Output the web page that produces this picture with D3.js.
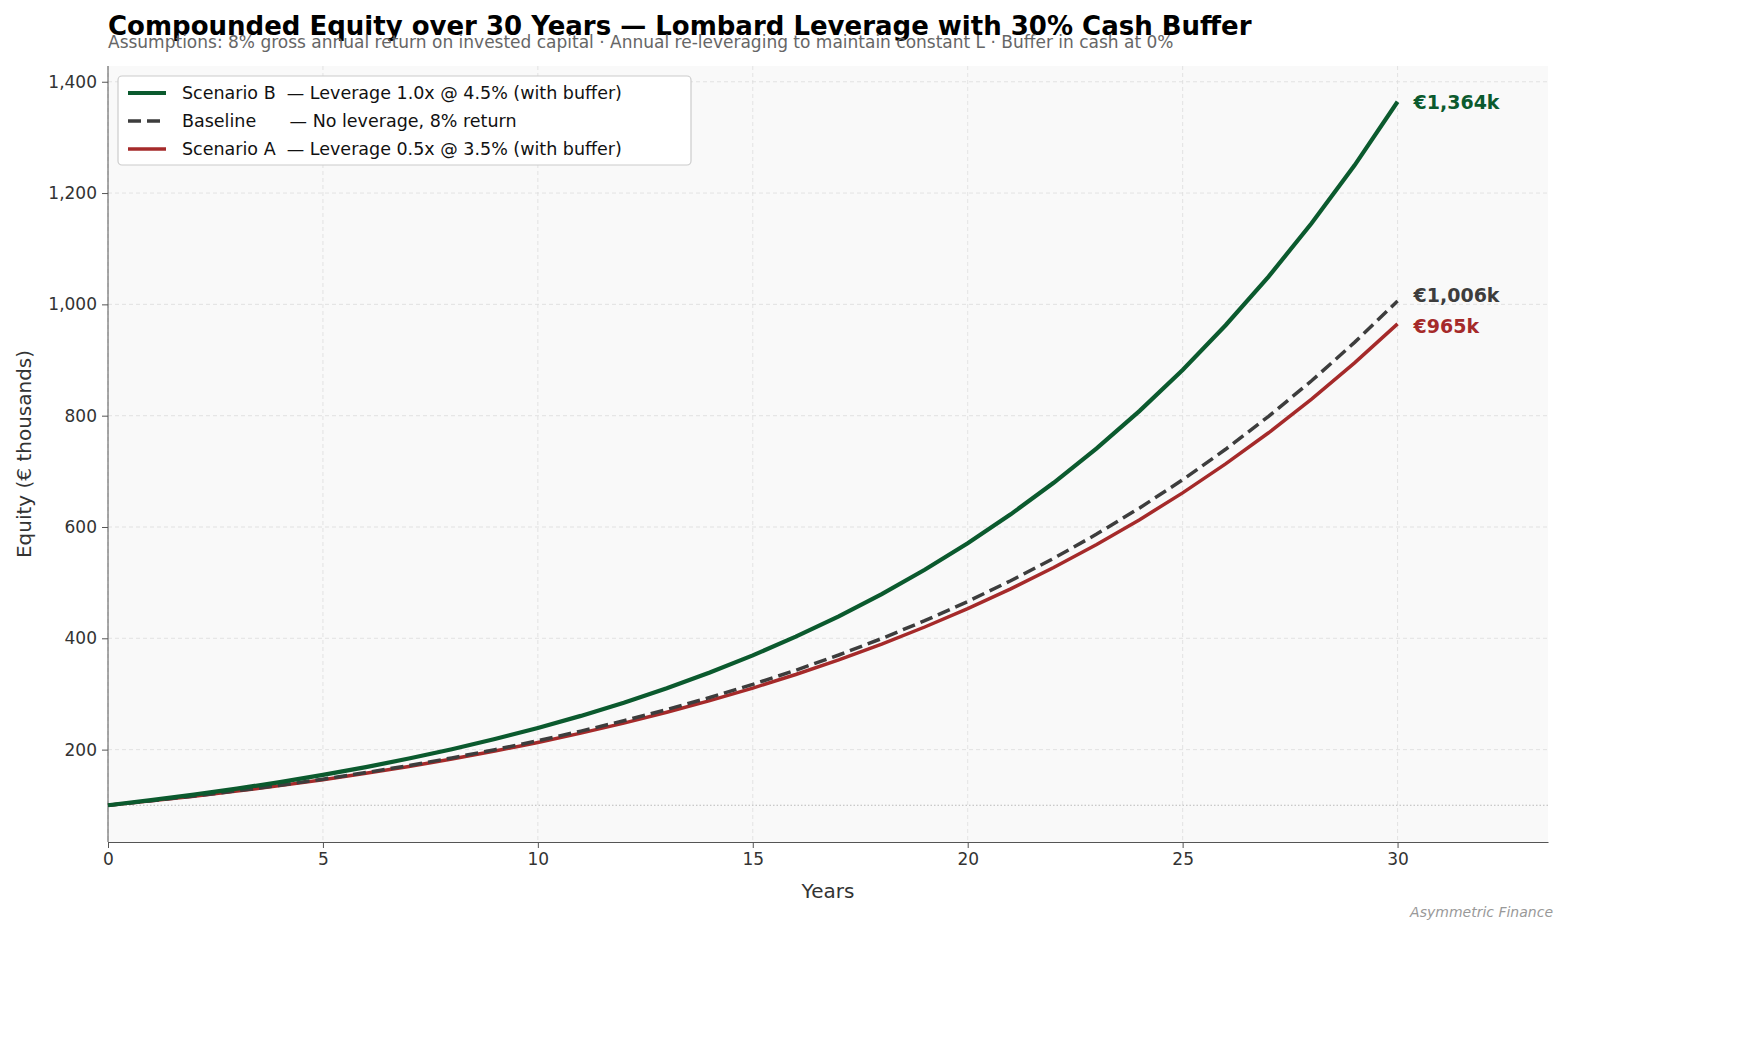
<!DOCTYPE html>
<html><head><meta charset="utf-8">
<script src="https://cdn.jsdelivr.net/npm/d3@7"></script>
<style>body{margin:0;background:#fff;font-family:"DejaVu Sans",sans-serif;overflow:hidden}</style>
</head><body><div id="viz"></div>
<script>
var years = d3.range(0, 31);
var baseline = [100,108,116.6,126,136,146.9,158.7,171.4,185.1,199.9,215.9,233.2,251.8,272,293.7,317.2,342.6,370,399.6,431.6,466.1,503.4,543.7,587.2,634.2,684.8,739.6,798.8,862.7,931.7,1006];
var scenB = [100,109.1,119,129.9,141.7,154.6,168.6,184,200.7,219,238.9,260.6,284.4,310.2,338.5,369.3,402.9,439.5,479.5,523.2,570.8,622.7,679.4,741.2,808.6,882.2,962.5,1050,1145.6,1249.8,1364];
var scenA = [100,107.9,116.3,125.4,135.3,145.9,157.4,169.7,183,197.4,212.9,229.6,247.6,267.1,288,310.6,335,361.3,389.7,420.3,453.3,488.8,527.2,568.6,613.2,661.3,713.3,769.3,829.6,894.8,965];
var xTicks = [0,5,10,15,20,25,30];
var yTicks = [200,400,600,800,1000,1200,1400];

var W = 1750, H = 1041;
var mLeft = 108, mRight = 1548, mTop = 66, mBottom = 842;
var svg = d3.select('#viz').append('svg').attr('width', W).attr('height', H);

var x = d3.scaleLinear().domain([0, 33.5]).range([mLeft, mRight]);
var y = d3.scaleLinear().domain([34, 1475]).range([mBottom, 40]);

svg.append('rect').attr('x', mLeft).attr('y', mTop).attr('width', mRight-mLeft).attr('height', mBottom-mTop).attr('fill', '#f9f9f9');

// grid
svg.selectAll('.gx').data(xTicks).enter().append('line')
.attr('x1', d=>x(d)).attr('x2', d=>x(d)).attr('y1', mTop).attr('y2', mBottom)
.attr('stroke', '#ddd').attr('stroke-dasharray', '4,3').attr('stroke-width', 0.8);
svg.selectAll('.gy').data(yTicks).enter().append('line')
.attr('x1', mLeft).attr('x2', mRight).attr('y1', d=>y(d)).attr('y2', d=>y(d))
.attr('stroke', '#ddd').attr('stroke-dasharray', '4,3').attr('stroke-width', 0.8);
svg.append('line').attr('x1', mLeft).attr('x2', mRight).attr('y1', y(100)).attr('y2', y(100))
.attr('stroke', '#bbb').attr('stroke-dasharray', '1.5,2').attr('stroke-width', 1);

// axes
var xa = svg.append('g').attr('transform', 'translate(0,' + mBottom + ')')
.call(d3.axisBottom(x).tickValues(xTicks).tickSize(6).tickPadding(5).tickSizeOuter(0));
var ya = svg.append('g').attr('transform', 'translate(' + mLeft + ',0)')
.call(d3.axisLeft(y).tickValues(yTicks).tickSize(6).tickPadding(5).tickSizeOuter(0));
ya.select('.domain').attr('d', 'M0,' + mTop + 'V' + mBottom);
[xa, ya].forEach(a=>{
  a.selectAll('text').attr('font-size', 17).attr('fill', '#333').attr('font-family', 'DejaVu Sans');
  a.selectAll('line,path').attr('stroke', '#555');
});

var line = d3.line().x((d,i)=>x(years[i])).y(d=>y(d));
svg.append('path').datum(scenA).attr('d', line).attr('fill', 'none').attr('stroke', '#a52a2a').attr('stroke-width', 3.5);
svg.append('path').datum(baseline).attr('d', line).attr('fill', 'none').attr('stroke', '#3d3d3d').attr('stroke-width', 3.5).attr('stroke-dasharray', '13,6');
svg.append('path').datum(scenB).attr('d', line).attr('fill', 'none').attr('stroke', '#0b5a2e').attr('stroke-width', 4.2);

// end labels
var ends = [[scenB[30], '€1,364k', '#0b5a2e', 0], [baseline[30], '€1,006k', '#3d3d3d', -6], [scenA[30], '€965k', '#a52a2a', 2]];
svg.selectAll('.endl').data(ends).enter().append('text')
.attr('x', x(30) + 16).attr('y', d=>y(d[0]) + d[3] + 7)
.text(d=>d[1]).attr('fill', d=>d[2]).attr('font-weight', 'bold').attr('font-size', 19);

// legend
var lg = svg.append('g');
lg.append('rect').attr('x', 118).attr('y', 76).attr('width', 573).attr('height', 89).attr('rx', 4)
.attr('fill', '#fff').attr('stroke', '#ccc').attr('stroke-width', 1.2);
var items = [['Scenario B  — Leverage 1.0x @ 4.5% (with buffer)', '#0b5a2e', null, 4.2],
             ['Baseline      — No leverage, 8% return', '#3d3d3d', '13,6', 3.5],
             ['Scenario A  — Leverage 0.5x @ 3.5% (with buffer)', '#a52a2a', null, 3.5]];
items.forEach((it, i)=>{
  var yy = 93 + i * 28;
  lg.append('line').attr('x1', 128).attr('x2', 166).attr('y1', yy).attr('y2', yy)
  .attr('stroke', it[1]).attr('stroke-width', it[3]).attr('stroke-dasharray', it[2]);
  lg.append('text').attr('x', 182).attr('y', yy + 6).text(it[0]).attr('font-size', 17.5).attr('fill', '#111')
  .style('white-space', 'pre');
});

// titles
svg.append('text').attr('x', 108).attr('y', 35).text('Compounded Equity over 30 Years — Lombard Leverage with 30% Cash Buffer')
.attr('font-size', 26).attr('font-weight', 'bold').attr('fill', '#000');
svg.append('text').attr('x', 108).attr('y', 48).text('Assumptions: 8% gross annual return on invested capital · Annual re-leveraging to maintain constant L · Buffer in cash at 0%')
.attr('font-size', 17).attr('fill', '#666');
svg.append('text').attr('x', (mLeft+mRight)/2).attr('y', 898).attr('text-anchor', 'middle').text('Years').attr('font-size', 20).attr('fill', '#333');
svg.append('text').attr('transform', 'translate(31,' + ((mTop+mBottom)/2) + ') rotate(-90)').attr('text-anchor', 'middle')
.text('Equity (€ thousands)').attr('font-size', 20).attr('fill', '#333');
svg.append('text').attr('x', 1553).attr('y', 917).attr('text-anchor', 'end').text('Asymmetric Finance')
.attr('font-size', 14).attr('font-style', 'italic').attr('fill', '#999');
</script></body></html>
